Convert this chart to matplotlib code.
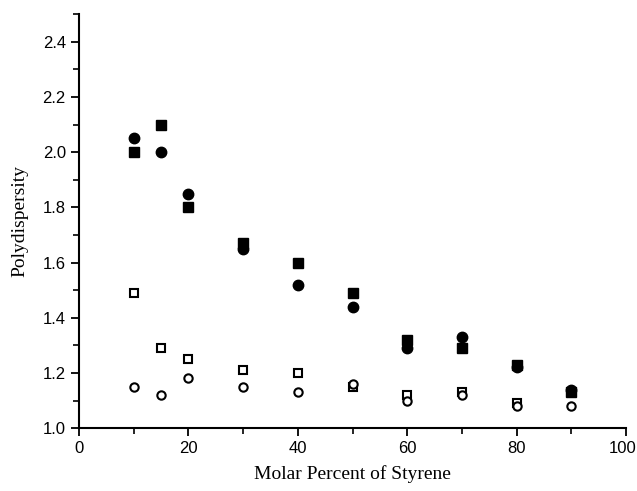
import matplotlib
matplotlib.use("Agg")
import matplotlib.pyplot as plt
import matplotlib.transforms as mtransforms
from matplotlib.ticker import MultipleLocator

styrene = [10, 15, 20, 30, 40, 50, 60, 70, 80, 90]
filled_circles = [2.05, 2.00, 1.85, 1.65, 1.52, 1.44, 1.29, 1.33, 1.22, 1.14]
filled_squares = [2.00, 2.10, 1.80, 1.67, 1.60, 1.49, 1.32, 1.29, 1.23, 1.13]
open_squares_x = [10, 15, 20, 30, 40, 50, 60, 70, 80]
open_squares = [1.49, 1.29, 1.25, 1.21, 1.20, 1.15, 1.12, 1.13, 1.09]
open_circles = [1.15, 1.12, 1.18, 1.15, 1.13, 1.16, 1.10, 1.12, 1.08, 1.08]

fig = plt.figure(figsize=(6.37, 4.91), dpi=100)
ax = fig.add_axes([0.124, 0.128, 0.859, 0.843])

ax.plot(styrene, filled_squares, 's', color='k', ms=7, ls='none')
ax.plot(styrene, filled_circles, 'o', color='k', ms=7.5, ls='none')
ax.plot(open_squares_x, open_squares, 's', mfc='white', mec='k', mew=1.5, ms=6, ls='none')
ax.plot(styrene, open_circles, 'o', mfc='white', mec='k', mew=1.5, ms=6, ls='none')

ax.set_xlim(0, 100)
ax.set_ylim(1.0, 2.5)
ax.xaxis.set_major_locator(MultipleLocator(20))
ax.xaxis.set_minor_locator(MultipleLocator(10))
ax.yaxis.set_major_locator(MultipleLocator(0.2))
ax.yaxis.set_minor_locator(MultipleLocator(0.1))
ax.yaxis.set_major_formatter(matplotlib.ticker.FormatStrFormatter('%.1f'))

ax.spines['top'].set_visible(False)
ax.spines['right'].set_visible(False)
ax.spines['left'].set_linewidth(1.5)
ax.spines['bottom'].set_linewidth(1.5)
ax.tick_params(which='major', direction='out', length=6, width=1.3, labelsize=12)
ax.tick_params(which='minor', direction='out', length=4, width=1.2)

ax.set_xlabel("Molar Percent of Styrene", family='Liberation Serif', fontsize=14, labelpad=6)
ax.set_ylabel("Polydispersity", family='Liberation Serif', fontsize=14, labelpad=10)

fig.canvas.draw()
for lab in ax.get_xticklabels() + ax.get_yticklabels():
    lab.set_family('Liberation Sans')
# keep "100" inside the figure edge
for lab in ax.get_xticklabels():
    if lab.get_text() == '100':
        lab.set_transform(lab.get_transform() + mtransforms.ScaledTranslation(-4 / 100, 0, fig.dpi_scale_trans))

fig.savefig("out.png", dpi=100)
